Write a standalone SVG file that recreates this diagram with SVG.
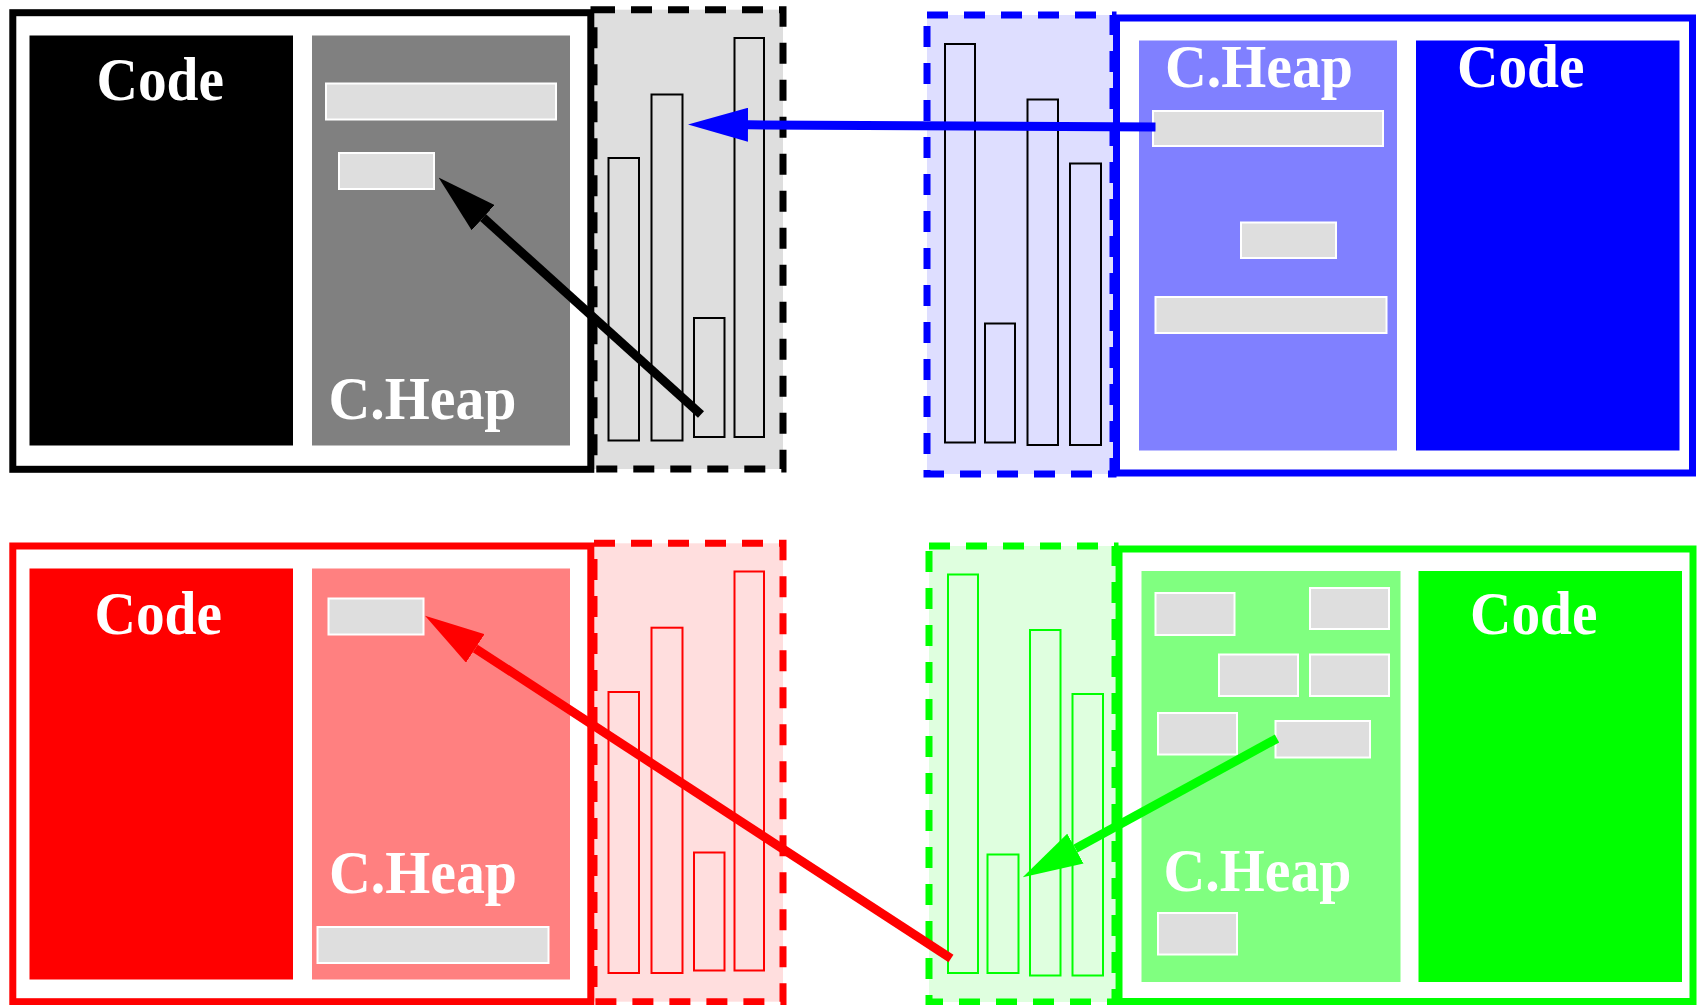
<svg xmlns="http://www.w3.org/2000/svg" width="1697" height="1005" viewBox="0 0 1697 1005">
<style>
  .lbl { font-family: "Liberation Serif", "Times New Roman", serif; font-weight: bold; font-size: 61px; fill: #ffffff; }
  .outer { fill: #ffffff; stroke-width: 7; }
  .dash { stroke-width: 7; stroke-dasharray: 21 16; }
  .blk { fill: #dedede; stroke: #ffffff; stroke-width: 2; }
  .bar { stroke-width: 2; }
  .conn { fill: none; stroke-width: 9; stroke-linecap: butt; }
</style>
<defs>
  <marker id="ahBlack" viewBox="0 -17 60 34" refX="0" refY="0" markerWidth="60" markerHeight="34" markerUnits="userSpaceOnUse" orient="auto"><path d="M0,-17 L60,0 L0,17 z" fill="#000000"/></marker>
  <marker id="ahBlue" viewBox="0 -17 60 34" refX="0" refY="0" markerWidth="60" markerHeight="34" markerUnits="userSpaceOnUse" orient="auto"><path d="M0,-17 L60,0 L0,17 z" fill="#0000ff"/></marker>
  <marker id="ahRed" viewBox="0 -17 60 34" refX="0" refY="0" markerWidth="60" markerHeight="34" markerUnits="userSpaceOnUse" orient="auto"><path d="M0,-17 L60,0 L0,17 z" fill="#ff0000"/></marker>
  <marker id="ahGreen" viewBox="0 -17 60 34" refX="0" refY="0" markerWidth="60" markerHeight="34" markerUnits="userSpaceOnUse" orient="auto"><path d="M0,-17 L60,0 L0,17 z" fill="#00ff00"/></marker>
</defs>

<!-- Top-left (black) -->
<g id="stack-black">
  <rect class="dash" x="594" y="9.7" width="189" height="459.3" fill="#dedede" stroke="#000000"/>
  <rect class="bar" x="608.5" y="158" width="30.5" height="282.5" fill="#dedede" stroke="#000000"/>
  <rect class="bar" x="651.5" y="94.5" width="31" height="346" fill="#dedede" stroke="#000000"/>
  <rect class="bar" x="694" y="318" width="30.5" height="119" fill="#dedede" stroke="#000000"/>
  <rect class="bar" x="734.5" y="38" width="29.5" height="399" fill="#dedede" stroke="#000000"/>
</g>
<g id="process-black">
  <rect class="outer" x="12.8" y="12.7" width="578" height="456.6" stroke="#000000"/>
  <g id="code-black">
    <rect x="29.5" y="35.5" width="263.5" height="410" fill="#000000"/>
    <text class="lbl" x="96.5" y="100" textLength="127.5" lengthAdjust="spacingAndGlyphs">Code</text>
  </g>
  <g id="heap-black">
    <rect x="312" y="35.5" width="258" height="410" fill="#808080"/>
    <rect class="blk" x="326" y="83.5" width="230" height="36"/>
    <rect class="blk" x="339" y="153" width="95" height="36"/>
    <text class="lbl" x="328.5" y="419" textLength="188" lengthAdjust="spacingAndGlyphs">C.Heap</text>
  </g>
</g>

<!-- Top-right (blue) -->
<g id="stack-blue">
  <rect class="dash" x="927" y="15" width="186" height="459" fill="#dedeff" stroke="#0000ff"/>
  <rect class="bar" x="945" y="44" width="30" height="398.5" fill="#dedeff" stroke="#000000"/>
  <rect class="bar" x="985" y="323.5" width="30" height="119" fill="#dedeff" stroke="#000000"/>
  <rect class="bar" x="1027.5" y="99.5" width="30.5" height="345.5" fill="#dedeff" stroke="#000000"/>
  <rect class="bar" x="1070" y="163.5" width="31" height="281.5" fill="#dedeff" stroke="#000000"/>
</g>
<g id="process-blue">
  <rect class="outer" x="1116.5" y="18" width="576" height="455" stroke="#0000ff"/>
  <g id="heap-blue">
    <rect x="1139" y="40.5" width="258" height="410" fill="#8080ff"/>
    <rect class="blk" x="1153" y="111" width="230" height="35"/>
    <rect class="blk" x="1241" y="222.5" width="95" height="35.5"/>
    <rect class="blk" x="1155.5" y="297" width="231" height="36"/>
    <text class="lbl" x="1165" y="87" textLength="188" lengthAdjust="spacingAndGlyphs">C.Heap</text>
  </g>
  <g id="code-blue">
    <rect x="1416" y="40.5" width="263.5" height="410" fill="#0000ff"/>
    <text class="lbl" x="1457" y="87" textLength="127.5" lengthAdjust="spacingAndGlyphs">Code</text>
  </g>
</g>

<!-- Bottom-left (red) -->
<g id="stack-red">
  <rect class="dash" x="594" y="543.3" width="189" height="458.4" fill="#ffdede" stroke="#ff0000"/>
  <rect class="bar" x="608.5" y="692" width="30.5" height="281" fill="#ffdede" stroke="#ff0000"/>
  <rect class="bar" x="651.5" y="627.7" width="31" height="345.3" fill="#ffdede" stroke="#ff0000"/>
  <rect class="bar" x="694" y="852.5" width="30.5" height="118" fill="#ffdede" stroke="#ff0000"/>
  <rect class="bar" x="734.5" y="571.5" width="29.5" height="399" fill="#ffdede" stroke="#ff0000"/>
</g>
<g id="process-red">
  <rect class="outer" x="12.8" y="546" width="578" height="455.7" stroke="#ff0000"/>
  <g id="code-red">
    <rect x="29.5" y="568.5" width="263.5" height="411" fill="#ff0000"/>
    <text class="lbl" x="94.5" y="634" textLength="127.5" lengthAdjust="spacingAndGlyphs">Code</text>
  </g>
  <g id="heap-red">
    <rect x="312" y="568.5" width="258" height="411" fill="#ff8080"/>
    <rect class="blk" x="328.5" y="598.5" width="95" height="36"/>
    <rect class="blk" x="317.5" y="927" width="231" height="36"/>
    <text class="lbl" x="329" y="893" textLength="188" lengthAdjust="spacingAndGlyphs">C.Heap</text>
  </g>
</g>

<!-- Bottom-right (green) -->
<g id="stack-green">
  <rect class="dash" x="929" y="546" width="186" height="456" fill="#dfffdf" stroke="#00ff00"/>
  <rect class="bar" x="948" y="574.5" width="30" height="398.5" fill="#dfffdf" stroke="#00ff00"/>
  <rect class="bar" x="987.5" y="854.5" width="31" height="118.5" fill="#dfffdf" stroke="#00ff00"/>
  <rect class="bar" x="1030" y="630" width="30.5" height="345.5" fill="#dfffdf" stroke="#00ff00"/>
  <rect class="bar" x="1072.5" y="694" width="30.5" height="281.5" fill="#dfffdf" stroke="#00ff00"/>
</g>
<g id="process-green">
  <rect class="outer" x="1119" y="549" width="574" height="452.5" stroke="#00ff00"/>
  <g id="heap-green">
    <rect x="1141.5" y="571" width="259" height="411" fill="#80ff80"/>
    <rect class="blk" x="1155.5" y="593" width="79" height="42"/>
    <rect class="blk" x="1310" y="588" width="79" height="41"/>
    <rect class="blk" x="1219" y="654.5" width="79" height="41.5"/>
    <rect class="blk" x="1310" y="654.5" width="79" height="41.5"/>
    <rect class="blk" x="1158" y="713" width="79" height="41.5"/>
    <rect class="blk" x="1275.5" y="721" width="94.5" height="36.5"/>
    <rect class="blk" x="1158" y="913" width="79" height="41.5"/>
    <text class="lbl" x="1163.5" y="891" textLength="188" lengthAdjust="spacingAndGlyphs">C.Heap</text>
  </g>
  <g id="code-green">
    <rect x="1418.5" y="571" width="263.5" height="411" fill="#00ff00"/>
    <text class="lbl" x="1470" y="634" textLength="127.5" lengthAdjust="spacingAndGlyphs">Code</text>
  </g>
</g>

<!-- Connectors -->
<g id="connectors">
  <line class="conn" x1="701" y1="414.5" x2="483.1" y2="217.7" stroke="#000000" marker-end="url(#ahBlack)"/>
  <line class="conn" x1="1155.5" y1="127" x2="748" y2="124.8" stroke="#0000ff" marker-end="url(#ahBlue)"/>
  <line class="conn" x1="951" y1="958.5" x2="475.3" y2="648.4" stroke="#ff0000" marker-end="url(#ahRed)"/>
  <line class="conn" x1="1277" y1="738.5" x2="1075.4" y2="848.6" stroke="#00ff00" marker-end="url(#ahGreen)"/>
</g>
</svg>
